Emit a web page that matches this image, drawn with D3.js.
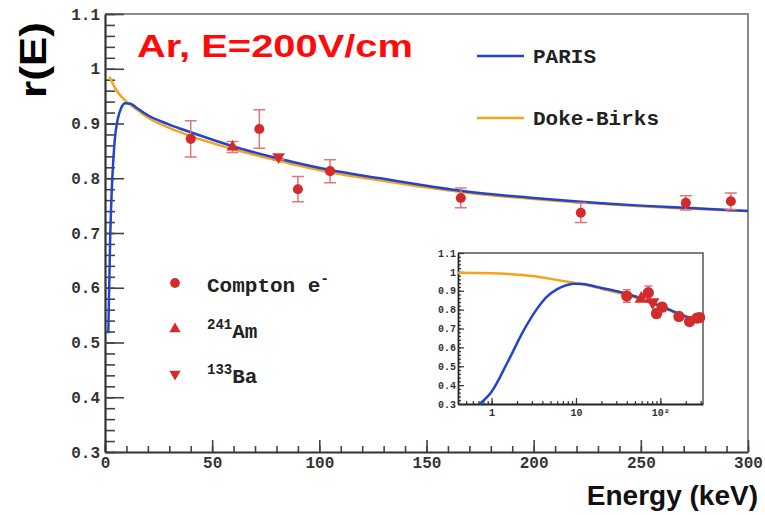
<!DOCTYPE html>
<html>
<head>
<meta charset="utf-8">
<script src="https://cdn.jsdelivr.net/npm/d3@7"></script>
<style>
  body { margin: 0; background: #fff; }
  svg { display: block; }
</style>
</head>
<body>
<svg id="chart" width="765" height="515"></svg>
<script>
// DATA
const pointE   = [40, 59.5, 72, 81, 90, 105, 166, 222, 271, 292];
const pointR   = [0.872, 0.857, 0.890, 0.839, 0.780, 0.813, 0.764, 0.737, 0.755, 0.758];
const pointErr = [0.033, 0.010, 0.035, 0.005, 0.023, 0.021, 0.018, 0.018, 0.013, 0.015];
const pointSrc = ["compton", "am", "compton", "ba", "compton", "compton", "compton", "compton", "compton", "compton"];

const parisE = [0.72, 1, 1.53, 2.41, 3.4, 4.5, 6, 7.5, 9.4, 12, 15, 20, 30, 40, 60, 80, 105, 130, 147, 166, 200, 222, 250, 271, 300];
const parisR = [0.30, 0.365, 0.517, 0.691, 0.800, 0.868, 0.909, 0.928, 0.937, 0.936, 0.928, 0.915, 0.898, 0.884, 0.858, 0.837, 0.815, 0.799, 0.788, 0.777, 0.764, 0.757, 0.750, 0.746, 0.740];

const dokeE = [0.4, 1, 2, 3, 5, 7, 10, 12, 15, 20, 30, 40, 60, 80, 105, 130, 166, 200, 250, 300];
const dokeR = [0.995, 0.993, 0.985, 0.978, 0.963, 0.952, 0.940, 0.934, 0.925, 0.911, 0.892, 0.877, 0.853, 0.833, 0.811, 0.795, 0.775, 0.762, 0.749, 0.740];

const mainXTicks = [0, 50, 100, 150, 200, 250, 300];
const mainYTicks = [0.3, 0.4, 0.5, 0.6, 0.7, 0.8, 0.9, 1.0, 1.1];
const insetXTicks = [1, 10, 100];
const insetXLabels = ["1", "10", "10²"];

const blue = "#2244cc";
const orange = "#f7a21b";
const red = "#d22b2b";
const errColor = "#e07878";
const mono = "'Liberation Mono', 'DejaVu Sans Mono', monospace";
const sans = "'Liberation Sans', Arial, sans-serif";

const svg = d3.select("#chart");

const points = pointE.map((e, i) => ({ e: e, r: pointR[i], err: pointErr[i], src: pointSrc[i] }));
const paris = parisE.map((e, i) => ({ e: e, r: parisR[i] }));
const doke = dokeE.map((e, i) => ({ e: e, r: dokeR[i] }));

//MAIN PLOT
const x = d3.scaleLinear().domain([0, 300]).range([105, 748]);
const y = d3.scaleLinear().domain([0.3, 1.1]).range([452, 14]);

// top and right frame
svg.append("path")
    .attr("d", `M${x(0)},${y(1.1)} H${x(300)} V${y(0.3)}`)
    .attr("fill", "none")
    .attr("stroke", "#8a8a8a")
    .attr("stroke-width", 2);

// minor ticks
svg.append("g")
    .attr("transform", `translate(0,${y(0.3)})`)
    .call(d3.axisBottom(x).tickValues(d3.range(0, 301, 10)).tickSizeInner(-6).tickSizeOuter(0).tickFormat(""))
    .call(g => g.select(".domain").remove());
svg.append("g")
    .attr("transform", `translate(${x(0)},0)`)
    .call(d3.axisLeft(y).tickValues(d3.range(0.3, 1.1001, 0.02)).tickSizeInner(-10).tickSizeOuter(0).tickFormat(""))
    .call(g => g.select(".domain").remove());

// major ticks + labels
const xAxis = svg.append("g")
    .attr("transform", `translate(0,${y(0.3)})`)
    .call(d3.axisBottom(x).tickValues(mainXTicks).tickSizeInner(-12).tickSizeOuter(0).tickPadding(5).tickFormat(d3.format("d")));
const yAxis = svg.append("g")
    .attr("transform", `translate(${x(0)},0)`)
    .call(d3.axisLeft(y).tickValues(mainYTicks).tickSizeInner(-19).tickSizeOuter(0).tickPadding(5)
        .tickFormat(d => Math.abs(d - 1) < 1e-9 ? "1" : d.toFixed(1)));

svg.selectAll(".tick line").attr("stroke", "#444").attr("stroke-width", 1.6);
[xAxis, yAxis].forEach(a => {
    a.select(".domain").attr("stroke", "#333").attr("stroke-width", 2.2);
    a.selectAll("text")
        .attr("font-family", mono)
        .attr("font-weight", "bold")
        .attr("font-size", "16px")
        .attr("fill", "#333");
});

// curves
const line = d3.line().x(d => x(d.e)).y(d => y(d.r)).curve(d3.curveMonotoneX);
svg.append("path")
    .datum(doke.filter(d => d.e >= 1.8))
    .attr("fill", "none").attr("stroke", orange).attr("stroke-width", 2.5)
    .attr("d", line);
svg.append("path")
    .datum(paris.filter(d => d.e >= 1.5))
    .attr("fill", "none").attr("stroke", blue).attr("stroke-width", 2.5)
    .attr("d", line);

// error bars and markers
function drawPoints(g, sx, sy, size, capW) {
    const pg = g.selectAll("g.pt").data(points).enter().append("g").attr("class", "pt");
    pg.append("path")
        .attr("d", d => {
            const px = sx(d.e), y0 = sy(d.r - d.err), y1 = sy(d.r + d.err);
            return `M${px},${y0}V${y1}M${px - capW},${y0}H${px + capW}M${px - capW},${y1}H${px + capW}`;
        })
        .attr("stroke", errColor).attr("stroke-width", 1.5).attr("fill", "none");
    pg.append("path")
        .attr("transform", d => `translate(${sx(d.e)},${sy(d.r)})` + (d.src === "ba" ? " rotate(180)" : ""))
        .attr("d", d => d3.symbol().type(d.src === "compton" ? d3.symbolCircle : d3.symbolTriangle)
            .size(d.src === "compton" ? size : size * 0.8)())
        .attr("fill", red);
}
drawPoints(svg, x, y, 80, 6);

// legend (curves)
const legendCurves = [["PARIS", blue, 56], ["Doke-Birks", orange, 118]];
legendCurves.forEach(([label, col, ly]) => {
    svg.append("line").attr("x1", 477).attr("x2", 524).attr("y1", ly).attr("y2", ly)
        .attr("stroke", col).attr("stroke-width", 2.5);
    svg.append("text").attr("x", 533).attr("y", ly + 7)
        .attr("font-family", mono).attr("font-weight", "bold").attr("font-size", "21px")
        .attr("fill", "#222").text(label);
});

// legend (points)
const legendPts = [
    { type: "compton", y: 283, sup: null, main: "Compton e", post: "-" },
    { type: "am", y: 329, sup: "241", main: "Am" },
    { type: "ba", y: 374, sup: "133", main: "Ba" }
];
legendPts.forEach(p => {
    svg.append("path")
        .attr("transform", `translate(175,${p.y})` + (p.type === "ba" ? " rotate(180)" : ""))
        .attr("d", d3.symbol().type(p.type === "compton" ? d3.symbolCircle : d3.symbolTriangle)
            .size(p.type === "compton" ? 75 : 55)())
        .attr("fill", red);
    const t = svg.append("text").attr("x", 207).attr("y", p.y + 9)
        .attr("font-family", mono).attr("font-weight", "bold").attr("font-size", "21px").attr("fill", "#222");
    if (p.sup) {
        t.append("tspan").attr("font-size", "14px").attr("dy", -9).text(p.sup);
        t.append("tspan").attr("dy", 9).text(p.main);
    } else {
        t.append("tspan").text(p.main);
        t.append("tspan").attr("font-size", "14px").attr("dy", -9).text(p.post);
    }
});

// title & axis labels
svg.append("text").attr("x", 137).attr("y", 57)
    .attr("font-family", sans).attr("font-weight", "bold").attr("font-size", "31px")
    .attr("fill", "#ff0a0a")
    .attr("textLength", 276).attr("lengthAdjust", "spacingAndGlyphs")
    .text("Ar, E=200V/cm");

svg.append("text")
    .attr("transform", "translate(46,60) rotate(-90)")
    .attr("text-anchor", "middle")
    .attr("font-family", sans).attr("font-weight", "bold").attr("font-size", "37px")
    .attr("fill", "#000")
    .attr("textLength", 76).attr("lengthAdjust", "spacingAndGlyphs")
    .text("r(E)");

svg.append("text").attr("x", 758).attr("y", 505)
    .attr("text-anchor", "end")
    .attr("font-family", sans).attr("font-weight", "bold").attr("font-size", "28px")
    .attr("fill", "#111")
    .text("Energy (keV)");

//INSET
const ix = d3.scaleLog().domain([0.4, 320]).range([458, 703]);
const iy = d3.scaleLinear().domain([0.3, 1.1]).range([404, 253]);
const inset = svg.append("g");

inset.append("path")
    .attr("d", `M${ix.range()[0]},${iy(1.1)} H${ix.range()[1]} V${iy(0.3)}`)
    .attr("fill", "none").attr("stroke", "#555").attr("stroke-width", 1.5);

const logMinor = [];
[0.1, 1, 10, 100].forEach(dec => d3.range(1, 10).forEach(k => {
    const v = dec * k;
    if (v >= 0.4 && v <= 320) logMinor.push(v);
}));
inset.append("g")
    .attr("transform", `translate(0,${iy(0.3)})`)
    .call(d3.axisBottom(ix).tickValues(logMinor).tickSizeInner(-3).tickSizeOuter(0).tickFormat(""))
    .call(g => g.select(".domain").remove());
inset.append("g")
    .attr("transform", `translate(${ix.range()[0]},0)`)
    .call(d3.axisLeft(iy).tickValues(d3.range(0.3, 1.1001, 0.02)).tickSizeInner(-3).tickSizeOuter(0).tickFormat(""))
    .call(g => g.select(".domain").remove());

const ixAxis = inset.append("g")
    .attr("transform", `translate(0,${iy(0.3)})`)
    .call(d3.axisBottom(ix).tickValues(insetXTicks).tickSizeInner(-6).tickSizeOuter(0).tickPadding(5)
        .tickFormat((d, i) => insetXLabels[i]));
const iyAxis = inset.append("g")
    .attr("transform", `translate(${ix.range()[0]},0)`)
    .call(d3.axisLeft(iy).tickValues(mainYTicks).tickSizeInner(-6).tickSizeOuter(0).tickPadding(2)
        .tickFormat(d => Math.abs(d - 1) < 1e-9 ? "1" : d.toFixed(1)));
inset.selectAll(".tick line").attr("stroke", "#333").attr("stroke-width", 1.2);
[ixAxis, iyAxis].forEach(a => {
    a.select(".domain").attr("stroke", "#222").attr("stroke-width", 1.8);
    a.selectAll("text")
        .attr("font-family", mono).attr("font-weight", "bold")
        .attr("font-size", "10px").attr("fill", "#333");
});

const iline = d3.line().x(d => ix(d.e)).y(d => iy(d.r)).curve(d3.curveMonotoneX);
inset.append("path").datum(doke)
    .attr("fill", "none").attr("stroke", orange).attr("stroke-width", 2.5).attr("d", iline);
inset.append("path").datum(paris)
    .attr("fill", "none").attr("stroke", blue).attr("stroke-width", 2.5).attr("d", iline);
drawPoints(inset, ix, iy, 100, 4);
</script>
</body>
</html>
